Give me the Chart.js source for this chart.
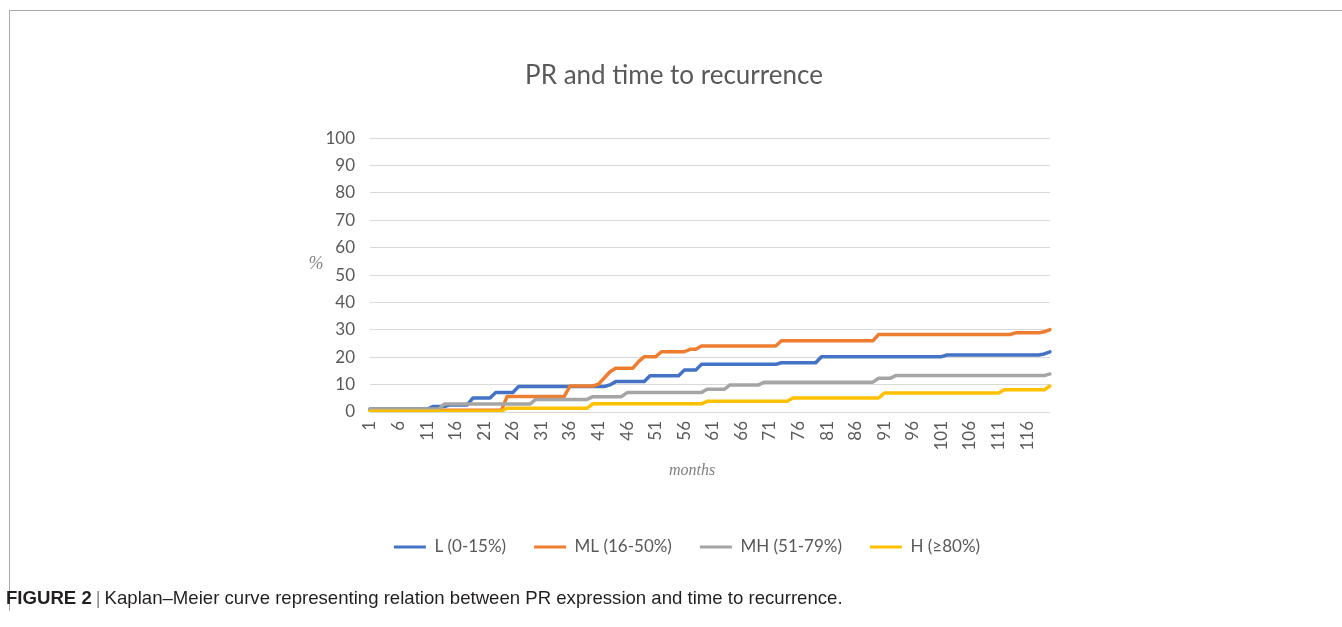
<!DOCTYPE html>
<html>
<head>
<meta charset="utf-8">
<script src="https://cdn.jsdelivr.net/npm/chart.js@4.4.1/dist/chart.umd.min.js"></script>
<style>
  html, body { margin: 0; padding: 0; background: #ffffff; width: 1342px; height: 627px; overflow: hidden; }
  #frame { position: absolute; left: 9px; top: 10px; width: 1340px; height: 600px;
           border-top: 1px solid #a9a9a9; border-left: 1px solid #a9a9a9; }
  #c { position: absolute; left: 0; top: 0; }
  #cap { position: absolute; left: 6px; top: 587px; font-family: "Liberation Sans", Arial, sans-serif;
         font-size: 18.6px; color: #231f20; white-space: nowrap; }
  #cap b { font-weight: bold; }
  #cap .bar { color: #888; padding: 0 4px; }
</style>
</head>
<body>
<div id="frame"></div>
<canvas id="c" width="1348" height="627"></canvas>
<div id="cap"><b>FIGURE 2</b><span class="bar">|</span>Kaplan–Meier curve representing relation between PR expression and time to recurrence.</div>
<script>
// ---- data ----
const months = [
  1,2,3,4,5,6,7,8,9,10,
  11,12,13,14,15,16,17,18,19,20,
  21,22,23,24,25,26,27,28,29,30,
  31,32,33,34,35,36,37,38,39,40,
  41,42,43,44,45,46,47,48,49,50,
  51,52,53,54,55,56,57,58,59,60,
  61,62,63,64,65,66,67,68,69,70,
  71,72,73,74,75,76,77,78,79,80,
  81,82,83,84,85,86,87,88,89,90,
  91,92,93,94,95,96,97,98,99,100,
  101,102,103,104,105,106,107,108,109,110,
  111,112,113,114,115,116,117,118,119,120
];

const seriesNames = ["L (0-15%)", "ML (16-50%)", "MH (51-79%)", "H (\u226580%)"];

const lowPR = [
  1.1,1.1,1.1,1.1,1.1,1.1,1.1,1.1,1.1,1.1,
  1.1,2.0,2.0,2.0,2.6,2.6,2.6,2.6,5.1,5.1,
  5.1,5.1,7.1,7.1,7.1,7.1,9.3,9.3,9.3,9.3,
  9.3,9.3,9.3,9.3,9.3,9.3,9.3,9.3,9.3,9.3,
  9.3,9.3,9.9,11.1,11.1,11.1,11.1,11.1,11.1,13.2,
  13.2,13.2,13.2,13.2,13.2,15.3,15.3,15.3,17.4,17.4,
  17.4,17.4,17.4,17.4,17.4,17.4,17.4,17.4,17.4,17.4,
  17.4,17.4,18.0,18.0,18.0,18.0,18.0,18.0,18.0,20.2,
  20.2,20.2,20.2,20.2,20.2,20.2,20.2,20.2,20.2,20.2,
  20.2,20.2,20.2,20.2,20.2,20.2,20.2,20.2,20.2,20.2,
  20.2,20.8,20.8,20.8,20.8,20.8,20.8,20.8,20.8,20.8,
  20.8,20.8,20.8,20.8,20.8,20.8,20.8,20.8,21.2,22.0
];

const midLowPR = [
  0.6,0.6,0.6,0.6,0.6,0.6,0.6,0.6,0.6,0.6,
  0.6,0.6,0.6,0.6,0.6,0.6,0.6,0.6,0.6,0.6,
  0.6,0.6,0.6,0.6,5.7,5.7,5.7,5.7,5.7,5.7,
  5.7,5.7,5.7,5.7,5.7,9.5,9.5,9.5,9.5,9.5,
  10.2,12.4,14.7,16.0,16.0,16.0,16.0,18.4,20.2,20.2,
  20.2,22.0,22.0,22.0,22.0,22.0,22.9,22.9,24.1,24.1,
  24.1,24.1,24.1,24.1,24.1,24.1,24.1,24.1,24.1,24.1,
  24.1,24.1,26.0,26.0,26.0,26.0,26.0,26.0,26.0,26.0,
  26.0,26.0,26.0,26.0,26.0,26.0,26.0,26.0,26.0,28.3,
  28.3,28.3,28.3,28.3,28.3,28.3,28.3,28.3,28.3,28.3,
  28.3,28.3,28.3,28.3,28.3,28.3,28.3,28.3,28.3,28.3,
  28.3,28.3,28.3,28.9,28.9,28.9,28.9,28.9,29.3,30.1
];

const midHighPR = [
  1.1,1.1,1.1,1.1,1.1,1.1,1.1,1.1,1.1,1.1,
  1.1,1.1,1.1,2.9,2.9,2.9,2.9,2.9,2.9,2.9,
  2.9,2.9,2.9,2.9,2.9,2.9,2.9,2.9,2.9,4.6,
  4.6,4.6,4.6,4.6,4.6,4.6,4.6,4.6,4.6,5.6,
  5.6,5.6,5.6,5.6,5.6,7.1,7.1,7.1,7.1,7.1,
  7.1,7.1,7.1,7.1,7.1,7.1,7.1,7.1,7.1,8.3,
  8.3,8.3,8.3,9.9,9.9,9.9,9.9,9.9,9.9,10.9,
  10.9,10.9,10.9,10.9,10.9,10.9,10.9,10.9,10.9,10.9,
  10.9,10.9,10.9,10.9,10.9,10.9,10.9,10.9,10.9,12.3,
  12.3,12.3,13.3,13.3,13.3,13.3,13.3,13.3,13.3,13.3,
  13.3,13.3,13.3,13.3,13.3,13.3,13.3,13.3,13.3,13.3,
  13.3,13.3,13.3,13.3,13.3,13.3,13.3,13.3,13.3,13.9
];

const highPR = [
  0.3,0.3,0.3,0.3,0.3,0.3,0.3,0.3,0.3,0.3,
  0.3,0.3,0.3,0.3,0.3,0.3,0.3,0.3,0.3,0.3,
  0.3,0.3,0.3,0.3,1.4,1.4,1.4,1.4,1.4,1.4,
  1.4,1.4,1.4,1.4,1.4,1.4,1.4,1.4,1.4,3.0,
  3.0,3.0,3.0,3.0,3.0,3.0,3.0,3.0,3.0,3.0,
  3.0,3.0,3.0,3.0,3.0,3.0,3.0,3.0,3.0,3.9,
  3.9,3.9,3.9,3.9,3.9,3.9,3.9,3.9,3.9,3.9,
  3.9,3.9,3.9,3.9,5.1,5.1,5.1,5.1,5.1,5.1,
  5.1,5.1,5.1,5.1,5.1,5.1,5.1,5.1,5.1,5.1,
  6.9,6.9,6.9,6.9,6.9,6.9,6.9,6.9,6.9,6.9,
  6.9,6.9,6.9,6.9,6.9,6.9,6.9,6.9,6.9,6.9,
  6.9,8.1,8.1,8.1,8.1,8.1,8.1,8.1,8.1,9.5
];

const yTicks = [0,10,20,30,40,50,60,70,80,90,100];
const seriesColors = ["#4472C4", "#ED7D31", "#A5A5A5", "#FFC000"];

// ---- chart ----
const textGray = "#595959";
const chartFont = "Lato, 'Open Sans', 'Liberation Sans', sans-serif";

const percentLabel = {
  id: "percentLabel",
  afterDraw(chart) {
    const a = chart.chartArea;
    const c = chart.ctx;
    c.save();
    c.font = "italic 18px 'Liberation Serif', serif";
    c.fillStyle = "#808080";
    c.textAlign = "center";
    c.textBaseline = "middle";
    c.fillText("%", a.left - 54, (a.top + a.bottom) / 2 - 11);
    c.restore();
  }
};

// nudge legend and x-axis title horizontally to sit where the reference has them
const nudge = {
  id: "nudge",
  afterLayout(chart) {
    const lg = chart.legend;
    if (lg) { lg.left += 13; lg.right += 13; }
    const xs = chart.scales.x;
    if (xs) { xs.left -= 36; }
  }
};

function mk(i, values, order) {
  return {
    label: seriesNames[i],
    data: values,
    borderColor: seriesColors[i],
    backgroundColor: seriesColors[i],
    borderWidth: 3.5,
    pointRadius: 0,
    tension: 0,
    fill: false,
    order: order,
    borderJoinStyle: "round",
    borderCapStyle: "round"
  };
}

new Chart(document.getElementById("c"), {
  type: "line",
  data: {
    labels: months,
    datasets: [mk(0, lowPR, 3), mk(1, midLowPR, 2), mk(2, midHighPR, 1), mk(3, highPR, 0)]
  },
  options: {
    responsive: false,
    animation: false,
    devicePixelRatio: 1,
    layout: { padding: { left: 0, right: 0, top: 60, bottom: 61.5 } },
    plugins: {
      title: {
        display: true,
        text: "PR and time to recurrence",
        color: textGray,
        font: { family: chartFont, size: 26, weight: "normal" },
        padding: { top: 0, bottom: 47 }
      },
      legend: {
        position: "bottom",
        labels: {
          color: textGray,
          font: { family: chartFont, size: 17 },
          boxWidth: 32,
          boxHeight: 3,
          padding: 28,
          sort: (a, b) => a.datasetIndex - b.datasetIndex,
          generateLabels(chart) {
            return chart.data.datasets.map((ds, i) => ({
              text: ds.label,
              fillStyle: ds.borderColor,
              strokeStyle: ds.borderColor,
              lineWidth: 0,
              hidden: false,
              datasetIndex: i,
              fontColor: textGray
            }));
          }
        }
      },
      tooltip: { enabled: false }
    },
    scales: {
      x: {
        type: "category",
        grid: { display: false, drawTicks: false },
        border: { display: false },
        ticks: {
          autoSkip: false,
          maxRotation: 90,
          minRotation: 90,
          padding: 9,
          color: textGray,
          font: { family: chartFont, size: 17 },
          callback: function (value, index) { return index % 5 === 0 ? String(months[index]) : ""; }
        },
        title: {
          display: true,
          text: "months",
          color: "#808080",
          font: { family: "'Liberation Serif', serif", size: 16, style: "italic" },
          padding: { top: 0, bottom: 30 }
        },
        afterFit(scale) { scale.height = 98.5; }
      },
      y: {
        min: 0,
        max: 100,
        afterBuildTicks(scale) { scale.ticks = yTicks.map(v => ({ value: v })); },
        grid: { color: "#d9d9d9", lineWidth: 1, drawTicks: false },
        border: { display: false },
        ticks: {
          padding: 15,
          color: textGray,
          font: { family: chartFont, size: 17 }
        },
        afterFit(scale) { scale.width = 370; }
      },
      yRight: {
        position: "right",
        display: true,
        min: 0,
        max: 100,
        grid: { display: false, drawTicks: false },
        border: { display: false },
        ticks: { display: false },
        afterFit(scale) { scale.width = 298; }
      }
    }
  },
  plugins: [percentLabel, nudge]
});
</script>
</body>
</html>
